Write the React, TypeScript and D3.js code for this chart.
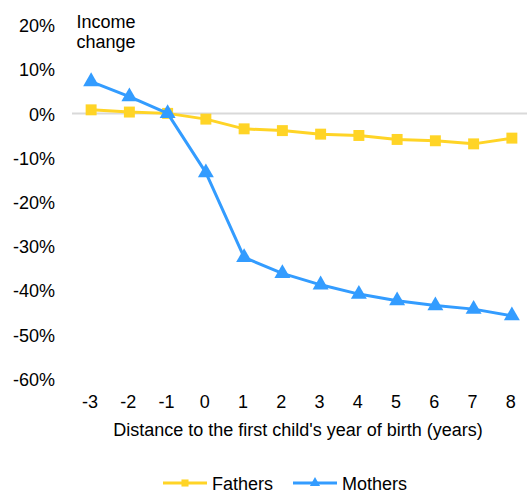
import { useEffect, useRef } from 'react';
import * as d3 from 'd3';

const years = [-3, -2, -1, 0, 1, 2, 3, 4, 5, 6, 7, 8];
const fathers = [0.8, 0.3, 0, -1.3, -3.5, -3.9, -4.7, -5.0, -5.9, -6.2, -6.9, -5.6];
const mothers = [7.2, 3.8, 0, -13.4, -32.6, -36.2, -38.8, -40.9, -42.4, -43.5, -44.3, -45.8];
const yTicks = [20, 10, 0, -10, -20, -30, -40, -50, -60];

const YELLOW = '#FFD426';
const BLUE = '#339CFF';
const FONT = '"Liberation Sans", Arial, sans-serif';
const FS = 18;

export default function App() {
  const ref = useRef<SVGSVGElement>(null);

  useEffect(() => {
    if (!ref.current) return;
    const svg = d3.select(ref.current);
    svg.selectAll('*').remove();

    const x = d3.scalePoint<number>()
      .domain(years)
      .range([72, 531])
      .padding(0.5);

    const y = d3.scaleLinear()
      .domain([-60, 20])
      .range([378.5, 25]);

    // zero gridline
    svg.append('line')
      .attr('x1', 72).attr('x2', 527)
      .attr('y1', y(0)).attr('y2', y(0))
      .attr('stroke', '#d9d9d9')
      .attr('stroke-width', 2);

    // y tick labels
    svg.append('g')
      .selectAll('text')
      .data(yTicks)
      .enter().append('text')
      .attr('x', 55)
      .attr('y', d => y(d) + 2.5)
      .attr('text-anchor', 'end')
      .attr('dominant-baseline', 'middle')
      .attr('font-family', FONT)
      .attr('font-size', FS)
      .attr('fill', '#000')
      .text(d => `${d}%`);

    // x tick labels
    svg.append('g')
      .selectAll('text')
      .data(years)
      .enter().append('text')
      .attr('x', d => x(d)! - 1)
      .attr('y', 408)
      .attr('text-anchor', 'middle')
      .attr('font-family', FONT)
      .attr('font-size', FS)
      .attr('fill', '#000')
      .text(d => `${d}`);

    svg.append('text')
      .attr('x', 298)
      .attr('y', 436)
      .attr('text-anchor', 'middle')
      .attr('font-family', FONT)
      .attr('font-size', FS)
      .text("Distance to the first child's year of birth (years)");

    const title = svg.append('text')
      .attr('font-family', FONT)
      .attr('font-size', FS)
      .attr('text-anchor', 'middle');
    title.append('tspan').attr('x', 106).attr('y', 28).text('Income');
    title.append('tspan').attr('x', 106).attr('y', 48).text('change');

    const line = d3.line<number>()
      .x((_, i) => x(years[i])!)
      .y(d => y(d));

    const tri = d3.symbol().type(d3.symbolTriangle).size(110);
    const sq = d3.symbol().type(d3.symbolSquare).size(120);

    const series = [
      { name: 'Fathers', values: fathers, color: YELLOW, sym: sq },
      { name: 'Mothers', values: mothers, color: BLUE, sym: tri },
    ];

    series.forEach(s => {
      svg.append('path')
        .attr('d', line(s.values))
        .attr('fill', 'none')
        .attr('stroke', s.color)
        .attr('stroke-width', 3)
        .attr('stroke-linejoin', 'round');
      svg.append('g')
        .selectAll('path')
        .data(s.values)
        .enter().append('path')
        .attr('d', s.sym)
        .attr('transform', (d, i) => `translate(${x(years[i])},${y(d)})`)
        .attr('fill', s.color);
    });

    // legend
    const legendX = [163, 293];
    series.forEach((s, i) => {
      const g = svg.append('g').attr('transform', `translate(${legendX[i]},483)`);
      g.append('line')
        .attr('x1', 0).attr('x2', 44)
        .attr('stroke', s.color).attr('stroke-width', 3);
      g.append('path')
        .attr('d', i === 0
          ? d3.symbol().type(d3.symbolSquare).size(50)()
          : d3.symbol().type(d3.symbolTriangle).size(45)())
        .attr('transform', 'translate(22,0)')
        .attr('fill', s.color);
      g.append('text')
        .attr('x', 49)
        .attr('y', 7)
        .attr('font-family', FONT)
        .attr('font-size', FS)
        .text(s.name);
    });
  }, []);

  return (
    <svg
      ref={ref}
      width={527}
      height={495}
      style={{ position: 'absolute', left: 0, top: 0, background: '#fff' }}
    />
  );
}
